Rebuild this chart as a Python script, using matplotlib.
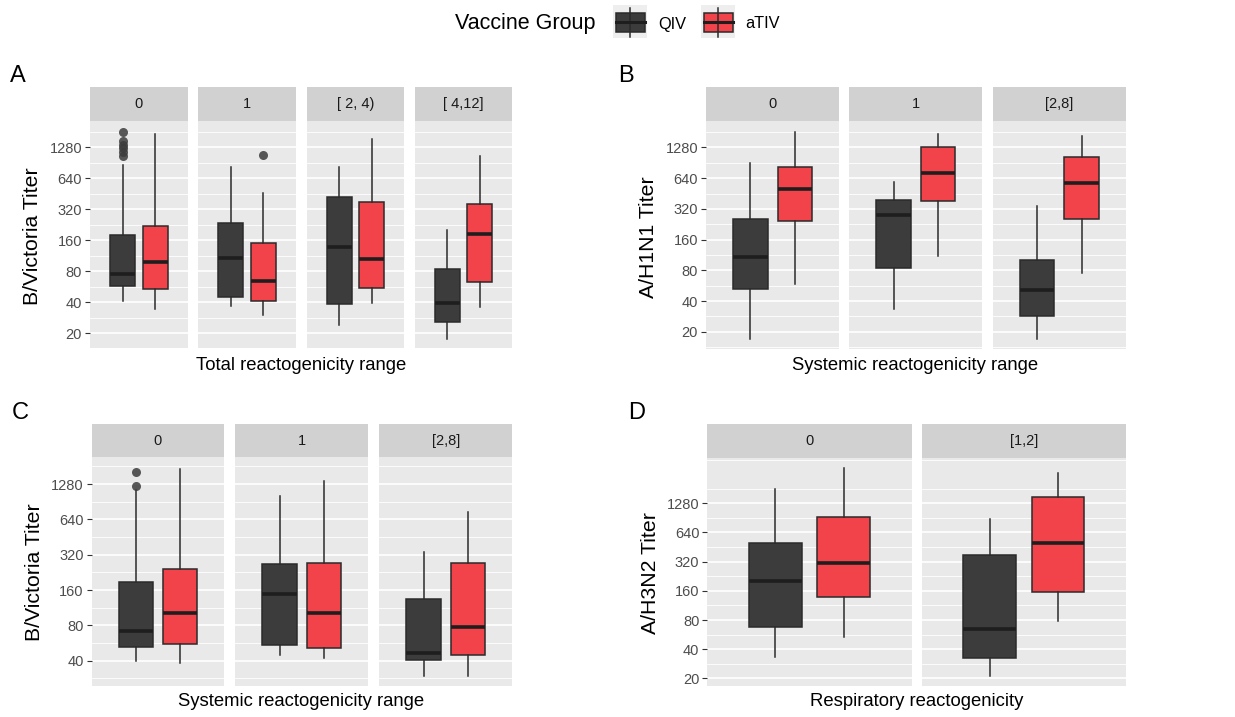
import matplotlib.pyplot as plt
from matplotlib.patches import Rectangle

plt.rcParams['font.family'] = ['Liberation Sans', 'DejaVu Sans']

# box summaries per facet: (lower whisker, q1, median, q3, upper whisker)
A_FACETS = ['0', '1', '[ 2, 4)', '[ 4,12]']
A_QIV = [(41.5, 57.6, 74.8, 180, 862), (36.8, 45.4, 108.6, 236, 817),
         (24.1, 38.2, 137.8, 425, 832), (17.8, 26, 39.1, 84.3, 201)]
A_ATIV = [(34.5, 54.3, 99, 222, 1725), (30.2, 41.5, 64.5, 150, 465),
          (39.7, 55.1, 104.6, 375, 1530), (36.3, 63.1, 184, 360, 1054)]
A_QIV_OUT = [[1062, 1162, 1254, 1350, 1472, 1811], [], [], []]
A_ATIV_OUT = [[], [1070], [], []]

B_FACETS = ['0', '1', '[2,8]']
B_QIV = [(17.2, 52.3, 107, 254, 892), (33.2, 84, 276, 389, 589),
         (17.1, 28.5, 51.3, 101, 340)]
B_ATIV = [(59.5, 243, 506, 814, 1820), (110, 384, 722, 1280, 1750),
          (74.6, 256, 577, 1035, 1653)]

C_FACETS = ['0', '1', '[2,8]']
C_QIV = [(39.7, 52.7, 71.6, 186, 1150), (45, 54.4, 148, 267, 1011),
         (29.6, 40.5, 46.3, 133, 339)]
C_ATIV = [(38.4, 55.5, 102.5, 241, 1715), (42.4, 51.6, 103, 270, 1366),
          (29.6, 44.5, 78, 270, 744)]
C_QIV_OUT = [[1238, 1632], [], []]

D_FACETS = ['0', '[1,2]']
D_QIV = [(32.9, 68.3, 202, 495, 1785), (21.1, 32.7, 64.6, 375, 875)]
D_ATIV = [(53.8, 139, 313, 918, 2940), (78.8, 157, 495, 1500, 2610)]

TITER_TICKS = [20, 40, 80, 160, 320, 640, 1280]
GROUPS = ['QIV', 'aTIV']

QIV_COLOR = '#3c3c3c'
ATIV_COLOR = '#f2434a'
EDGE = '#2b2b2b'
PANEL_BG = '#e9e9e9'
STRIP_BG = '#d1d1d1'

W, H = 1235, 717
fig = plt.figure(figsize=(W / 100, H / 100), dpi=100)


def px_axes(x0, x1, y0, y1):
    return fig.add_axes([x0 / W, 1 - y1 / H, (x1 - x0) / W, (y1 - y0) / H])


def box_stats(row, fliers):
    lo, q1, med, q3, hi = row
    return dict(whislo=lo, q1=q1, med=med, q3=q3, whishi=hi, fliers=fliers)


def draw_box(ax, row, fliers, pos, color):
    ax.bxp([box_stats(row, fliers)], positions=[pos], widths=0.31,
           patch_artist=True, showcaps=False,
           boxprops=dict(facecolor=color, edgecolor=EDGE, linewidth=1.1),
           medianprops=dict(color='#1e1e1e', linewidth=2.6),
           whiskerprops=dict(color=EDGE, linewidth=1.1),
           flierprops=dict(marker='o', markerfacecolor='#3c3c3c',
                           markeredgecolor='none', markersize=6.5, alpha=0.85))


def facet_panel(cols, strip_top, panel_top, panel_bottom, ylim, facets,
                qiv, ativ, qiv_out=None, ativ_out=None):
    n = len(facets)
    qiv_out = qiv_out or [[] for _ in range(n)]
    ativ_out = ativ_out or [[] for _ in range(n)]
    minors = [20 * 2 ** (k + 0.5) for k in range(-1, 8)]
    ticks = [t for t in TITER_TICKS if ylim[0] <= t <= ylim[1]]
    for i, (x0, x1) in enumerate(cols):
        ax = px_axes(x0, x1, panel_top, panel_bottom)
        ax.set_facecolor(PANEL_BG)
        ax.set_yscale('log', base=2)
        draw_box(ax, qiv[i], qiv_out[i], 0.8, QIV_COLOR)
        draw_box(ax, ativ[i], ativ_out[i], 1.2, ATIV_COLOR)
        ax.set_axisbelow(True)
        ax.set_yticks(ticks)
        ax.set_yticks(minors, minor=True)
        # bxp and set_yticks both widen the view, so fix it last
        ax.set_ylim(*ylim)
        ax.set_xlim(0.4, 1.6)
        ax.grid(True, which='major', axis='y', color='white', linewidth=1.2)
        ax.grid(True, which='minor', axis='y', color='white', linewidth=0.6)
        ax.tick_params(axis='y', which='minor', length=0, labelleft=False)
        ax.set_xticks([])
        for s in ax.spines.values():
            s.set_visible(False)
        if i == 0:
            ax.set_yticklabels([str(t) for t in ticks])
            ax.tick_params(axis='y', which='major', length=3.5, width=0.8,
                           color='#333333', labelsize=10.5,
                           labelcolor='#4d4d4d', pad=2.2)
        else:
            ax.tick_params(axis='y', which='major', length=0, labelleft=False)
        st = px_axes(x0, x1, strip_top, panel_top)
        st.set_facecolor(STRIP_BG)
        st.set_xticks([])
        st.set_yticks([])
        for s in st.spines.values():
            s.set_visible(False)
        st.text(0.5, 0.5, facets[i], ha='center', va='center',
                fontsize=10.5, color='#1a1a1a', transform=st.transAxes)


facet_panel([(90, 188), (198, 296), (307, 404), (415, 512)], 87, 121, 348,
            (14.4, 2307), A_FACETS, A_QIV, A_ATIV, A_QIV_OUT, A_ATIV_OUT)
facet_panel([(706, 839.3), (849.3, 982), (992.7, 1126)], 86.7, 121, 349.3,
            (13.5, 2320), B_FACETS, B_QIV, B_ATIV)
facet_panel([(91.7, 224.3), (235.3, 368.3), (379.3, 512.3)], 424.3, 457.3, 685.7,
            (24.5, 2166), C_FACETS, C_QIV, C_ATIV, C_QIV_OUT)
facet_panel([(707.3, 911.7), (921.7, 1126)], 424.3, 457.7, 685.7,
            (16.8, 3780), D_FACETS, D_QIV, D_ATIV)

# overlay in pixel units for titles, panel letters and the legend
ov = fig.add_axes([0, 0, 1, 1])
ov.set_xlim(0, W)
ov.set_ylim(H, 0)
ov.axis('off')

for letter, x, y in [('A', 10, 76), ('B', 618, 76), ('C', 12, 413), ('D', 628, 413)]:
    ov.text(x, y, letter, fontsize=17, ha='left', va='center', color='black')

for label, x, y in [('Total reactogenicity range', 301, 365),
                    ('Systemic reactogenicity range', 915.5, 365),
                    ('Systemic reactogenicity range', 301.3, 701.7),
                    ('Respiratory reactogenicity', 916.3, 701.7)]:
    ov.text(x, y, label, fontsize=13.3, ha='center', va='center', color='black')

for label, x, y in [('B/Victoria Titer', 33, 236), ('A/H1N1 Titer', 649, 237.5),
                    ('B/Victoria Titer', 34, 571.7), ('A/H3N2 Titer', 651, 573.3)]:
    ov.text(x, y, label, fontsize=15.3, ha='center', va='center',
            rotation=90, color='black')

# legend
ov.text(455, 24, 'Vaccine Group', fontsize=15.5, ha='left', va='center')
for color, label, kx in [(QIV_COLOR, GROUPS[0], 613), (ATIV_COLOR, GROUPS[1], 700.7)]:
    ov.add_patch(Rectangle((kx, 5), 34, 33, facecolor='#eeeeee', edgecolor='none'))
    ov.plot([kx + 17, kx + 17], [7.5, 37], color=EDGE, linewidth=1.1)
    ov.add_patch(Rectangle((kx + 3, 13.3), 29, 18.4, facecolor=color,
                           edgecolor=EDGE, linewidth=1.1))
    ov.plot([kx + 3, kx + 32], [22.4, 22.4], color='#1e1e1e', linewidth=2.2)
    ov.text(kx + 45, 24, label, fontsize=11.8, ha='left', va='center')

fig.savefig('out.png', dpi=100)
